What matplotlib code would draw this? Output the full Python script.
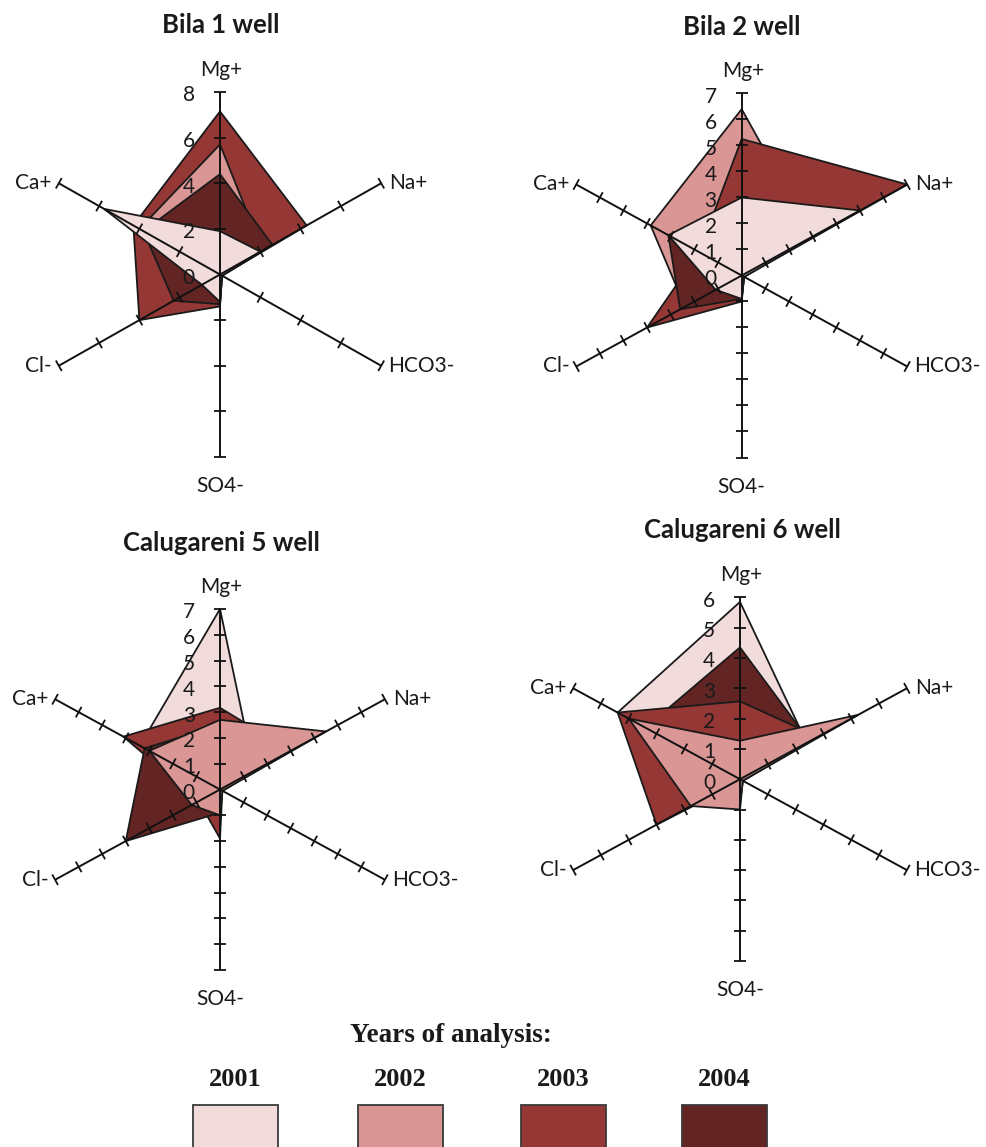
import numpy as np
import matplotlib
matplotlib.use("Agg")
import matplotlib.pyplot as plt
from matplotlib.patches import Rectangle

# ---------------- data ----------------
categories = ["Mg+", "Na+", "HCO3-", "SO4-", "Cl-", "Ca+"]
years = ["2001", "2002", "2003", "2004"]
year_colors = ["#F2DCDB", "#D99694", "#953735", "#632523"]
titles = ["Bila 1 well", "Bila 2 well", "Calugareni 5 well", "Calugareni 6 well"]

# values per year, order of categories above
bila1_2001 = [1.9, 2.0, 0.1, 1.2, 0.9, 5.75]
bila1_2002 = [5.7, 2.1, 0.1, 1.2, 1.8, 4.0]
bila1_2003 = [7.15, 4.3, 0.1, 1.4, 4.0, 4.3]
bila1_2004 = [4.4, 2.6, 0.1, 1.3, 2.3, 3.8]

bila2_2001 = [3.0, 5.0, 0.1, 0.9, 1.1, 3.1]
bila2_2002 = [6.4, 3.0, 0.1, 0.8, 2.4, 3.85]
bila2_2003 = [5.25, 7.0, 0.1, 1.0, 4.0, 1.8]
bila2_2004 = [2.0, 2.0, 0.1, 0.9, 2.6, 3.1]

cal5_2001 = [7.0, 1.45, 0.1, 0.8, 1.0, 3.4]
cal5_2002 = [2.7, 4.5, 0.1, 1.0, 1.2, 3.0]
cal5_2003 = [3.17, 3.0, 0.1, 1.9, 0.9, 4.1]
cal5_2004 = [2.5, 2.0, 0.1, 0.9, 4.0, 3.2]

cal6_2001 = [5.85, 2.4, 0.1, 0.8, 1.5, 4.4]
cal6_2002 = [1.27, 4.25, 0.1, 1.0, 1.77, 4.0]
cal6_2003 = [2.57, 2.8, 0.1, 0.1, 3.0, 4.4]
cal6_2004 = [4.35, 2.5, 0.1, 0.8, 1.5, 3.4]

axis_max = [8, 7, 7, 6]
axis_step = [2, 1, 1, 1]

series = [
    [bila1_2001, bila1_2002, bila1_2003, bila1_2004],
    [bila2_2001, bila2_2002, bila2_2003, bila2_2004],
    [cal5_2001, cal5_2002, cal5_2003, cal5_2004],
    [cal6_2001, cal6_2002, cal6_2003, cal6_2004],
]
# drawing order (back to front), indices into years
draw_order = [[2, 1, 3, 0], [1, 2, 3, 0], [0, 2, 3, 1], [0, 3, 2, 1]]

# ---------------- layout (pixels) ----------------
W, H = 987, 1147
DPI = 100
centers = [(220, 274.5), (741.7, 275.5), (220, 789.5), (740, 779.2)]
radius_px = [182.5, 182.0, 180.5, 181.8]
stretch = [1.02, 1.05, 1.055, 1.06]
title_pos = [(221, 25), (742, 27), (221, 543), (742, 530)]

angles = np.deg2rad([90, 30, -30, -90, -150, 150])

FONT = ["Lato", "DejaVu Sans"]
TXT = "#1a1a1a"
LAB_SIZE = 15
TITLE_SIZE = 18.5

fig = plt.figure(figsize=(W / DPI, H / DPI), dpi=DPI)

half = 270
for i in range(4):
    cx, cy = centers[i]
    vmax = axis_max[i]
    u = radius_px[i] / vmax
    s = stretch[i]
    ax = fig.add_axes([(cx - half) / W, 1 - (cy + half) / H, 2 * half / W, 2 * half / H])
    ax.set_xlim(-half / (u * s), half / (u * s))
    ax.set_ylim(-half / u, half / u)
    ax.axis("off")
    ax.patch.set_visible(False)

    cosa, sina = np.cos(angles), np.sin(angles)

    # filled series
    for k, idx in enumerate(draw_order[i]):
        vals = np.array(series[i][idx])
        ax.fill(vals * cosa, vals * sina, facecolor=year_colors[idx],
                edgecolor="#1a1a1a", lw=1.3, joinstyle="miter", zorder=2 + k)

    # spokes and tick marks
    hlen = 6.0  # px
    ticks = np.arange(axis_step[i], vmax + 1e-9, axis_step[i])
    for a in angles:
        ax.plot([0, vmax * np.cos(a)], [0, vmax * np.sin(a)], color="#111111",
                lw=1.4, zorder=10, solid_capstyle="butt")
        dpx = np.array([s * np.cos(a), np.sin(a)])
        dpx /= np.linalg.norm(dpx)
        ppx = np.array([-dpx[1], dpx[0]])
        ox, oy = hlen * ppx[0] / (u * s), hlen * ppx[1] / u
        for t in ticks:
            x0, y0 = t * np.cos(a), t * np.sin(a)
            ax.plot([x0 - ox, x0 + ox], [y0 - oy, y0 + oy], color="#111111",
                    lw=1.3, zorder=10, solid_capstyle="butt")

    # value labels along Mg+ axis
    for t in np.arange(0, vmax + 1e-9, axis_step[i]):
        ax.annotate(f"{t:g}", xy=(0, t), xytext=(-18, -2.5), textcoords="offset points",
                    ha="right", va="center", fontsize=LAB_SIZE, family=FONT,
                    color=TXT, zorder=20)

    # category labels
    offs = [(1, 16, "center", "center"), (6, 0, "left", "center"),
            (5, 0, "left", "center"), (0, -21, "center", "center"),
            (-5, 0, "right", "center"), (-5, 0, "right", "center")]
    for name, a, (dx, dy, ha, va) in zip(categories, angles, offs):
        ax.annotate(name, xy=(vmax * np.cos(a), vmax * np.sin(a)), xytext=(dx, dy),
                    textcoords="offset points", ha=ha, va=va, fontsize=LAB_SIZE,
                    family=FONT, color=TXT, zorder=20, annotation_clip=False)

    tx, ty = title_pos[i]
    fig.text(tx / W, 1 - ty / H, titles[i], ha="center", va="center",
             fontsize=TITLE_SIZE, fontweight="bold", family=FONT, color=TXT)

# ---------------- legend ----------------
SERIF = ["Liberation Serif", "DejaVu Serif"]
fig.text(451 / W, 1 - 1036 / H, "Years of analysis:", ha="center", va="center",
         fontsize=19.5, fontweight="bold", family=SERIF, color=TXT)
box_left = [193, 358, 521, 682]
box_w = 85
for yr, col, bx in zip(years, year_colors, box_left):
    fig.text((bx + box_w / 2) / W, 1 - 1080 / H, yr, ha="center", va="center",
             fontsize=19, fontweight="bold", family=SERIF, color=TXT)
    fig.add_artist(Rectangle((bx / W, 1 - 1152 / H), box_w / W, 47 / H,
                             transform=fig.transFigure, facecolor=col,
                             edgecolor="#3a3a3a", lw=1.3))

fig.savefig("out.png", dpi=DPI)
